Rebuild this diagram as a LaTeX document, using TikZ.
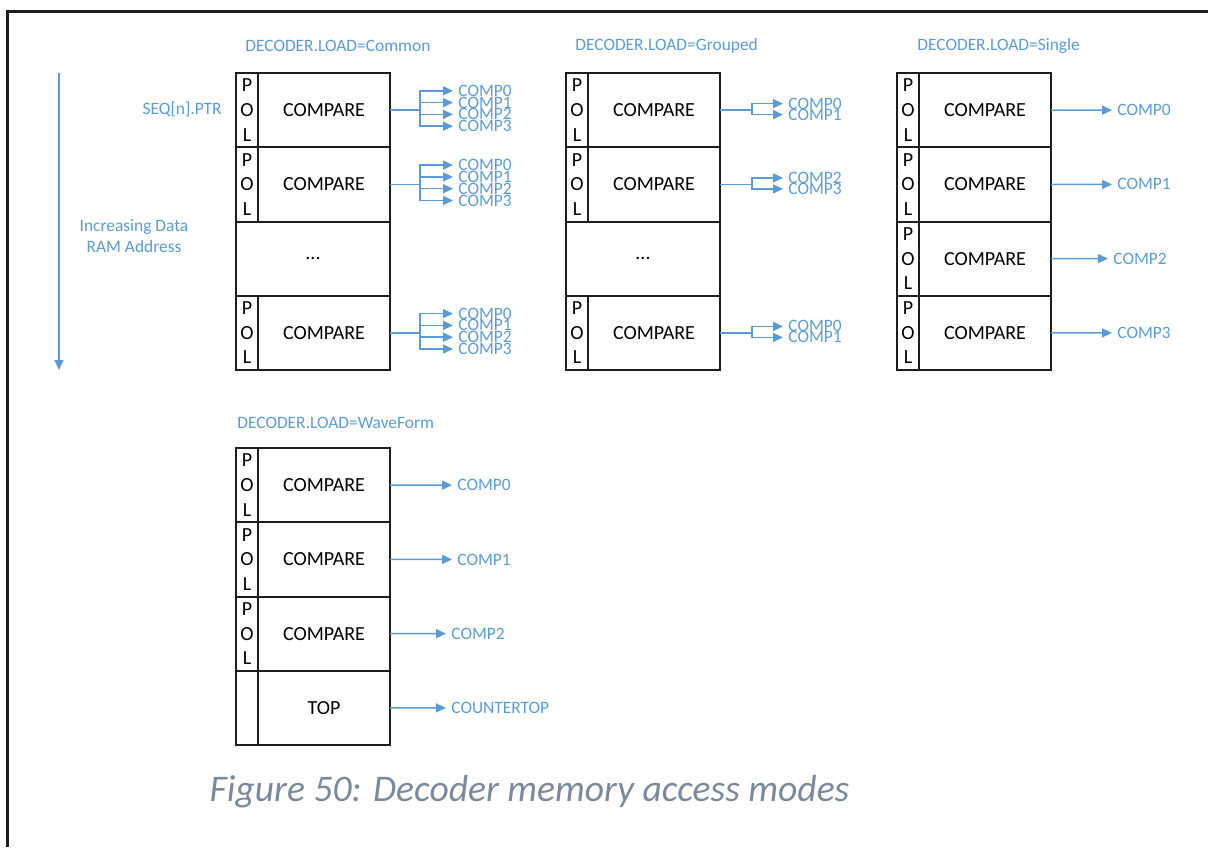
\documentclass[tikz,border=0pt]{standalone}
\usepackage{fontspec}
\setmainfont{Carlito}
\usepackage{xcolor}
\definecolor{dmblue}{HTML}{5B9BD5}
\definecolor{dmline}{HTML}{1E1E1E}
\definecolor{dmgray}{HTML}{7A8A9B}
\usepackage{tikz}
\usetikzlibrary{arrows.meta, positioning}

\begin{document}
\begin{tikzpicture}[
  x=0.5pt, y=-0.5pt,
  cell/.style={rectangle, draw=dmline, line width=1pt,
    inner sep=0pt, outer sep=0pt, minimum height=37.125pt,
    align=center},
  pol/.style={cell, minimum width=11pt,
    font=\fontsize{10}{12.3}\selectfont},
  cmp/.style={cell, minimum width=66pt,
    font=\fontsize{10}{12}\selectfont},
  full/.style={cell, minimum width=77pt,
    font=\fontsize{10}{12}\selectfont},
  hdr/.style={inner sep=0pt, text=dmblue,
    font=\fontsize{8.7}{10.5}\selectfont},
  lbl/.style={inner sep=2.5pt, text=dmblue,
    font=\fontsize{8.7}{10}\selectfont},
  arr/.style={-{Triangle[length=5pt, width=4.5pt]},
    line width=0.75pt, dmblue}
]
  \useasboundingbox (0,0) rectangle (1208,847);
  \draw[dmline, line width=1.5pt] (1208,11) -- (7,11) -- (7,847);

  % address direction
  \coordinate (atop) at (59,73);
  \coordinate (abot) at (59,370);
  \draw[arr] (atop) -- (abot);
  \node[hdr, anchor=east] (seqptr) at (222,109) {SEQ[n].PTR};
  \node[hdr, align=center] (incaddr) at (134,236)
    {Increasing Data\\RAM Address};

  % headers
  \node[hdr, anchor=west] (hcommon) at (245,46) {DECODER.LOAD=Common};
  \node[hdr, anchor=west] (hgrouped) at (575,46) {DECODER.LOAD=Grouped};
  \node[hdr, anchor=west] (hsingle) at (917,46) {DECODER.LOAD=Single};
  \node[hdr, anchor=west] (hwave) at (237,423) {DECODER.LOAD=WaveForm};

  % Common
  \node[pol, anchor=north west] (cP1) at (236,73) {P\\O\\L};
  \node[cmp, right=0pt of cP1] (cC1) {COMPARE};
  \node[pol, below=0pt of cP1] (cP2) {P\\O\\L};
  \node[cmp, right=0pt of cP2] (cC2) {COMPARE};
  \node[full, anchor=north west] (cD) at (cP2.south west) {...};
  \node[pol, anchor=north west] (cP4) at (cD.south west) {P\\O\\L};
  \node[cmp, right=0pt of cP4] (cC4) {COMPARE};

  % Grouped
  \node[pol, anchor=north west] (gP1) at (566,73) {P\\O\\L};
  \node[cmp, right=0pt of gP1] (gC1) {COMPARE};
  \node[pol, below=0pt of gP1] (gP2) {P\\O\\L};
  \node[cmp, right=0pt of gP2] (gC2) {COMPARE};
  \node[full, anchor=north west] (gD) at (gP2.south west) {...};
  \node[pol, anchor=north west] (gP4) at (gD.south west) {P\\O\\L};
  \node[cmp, right=0pt of gP4] (gC4) {COMPARE};

  % Single
  \node[pol, anchor=north west] (sP1) at (897,73) {P\\O\\L};
  \node[cmp, right=0pt of sP1] (sC1) {COMPARE};
  \node[pol, below=0pt of sP1] (sP2) {P\\O\\L};
  \node[cmp, right=0pt of sP2] (sC2) {COMPARE};
  \node[pol, below=0pt of sP2] (sP3) {P\\O\\L};
  \node[cmp, right=0pt of sP3] (sC3) {COMPARE};
  \node[pol, below=0pt of sP3] (sP4) {P\\O\\L};
  \node[cmp, right=0pt of sP4] (sC4) {COMPARE};

  % WaveForm
  \node[pol, anchor=north west] (wP1) at (236,448) {P\\O\\L};
  \node[cmp, right=0pt of wP1] (wC1) {COMPARE};
  \node[pol, below=0pt of wP1] (wP2) {P\\O\\L};
  \node[cmp, right=0pt of wP2] (wC2) {COMPARE};
  \node[pol, below=0pt of wP2] (wP3) {P\\O\\L};
  \node[cmp, right=0pt of wP3] (wC3) {COMPARE};
  \node[pol, below=0pt of wP3] (wP4) {};
  \node[cmp, right=0pt of wP4] (wC4) {TOP};

  % Common outputs
  \node[lbl, anchor=west] (c1o0) at (453,90.8) {COMP0};
  \node[lbl, anchor=west] (c1o1) at (453,102.6) {COMP1};
  \node[lbl, anchor=west] (c1o2) at (453,114.4) {COMP2};
  \node[lbl, anchor=west] (c1o3) at (453,126.2) {COMP3};
  \node[lbl, anchor=west] (c2o0) at (453,165.1) {COMP0};
  \node[lbl, anchor=west] (c2o1) at (453,176.9) {COMP1};
  \node[lbl, anchor=west] (c2o2) at (453,188.7) {COMP2};
  \node[lbl, anchor=west] (c2o3) at (453,200.5) {COMP3};
  \node[lbl, anchor=west] (c4o0) at (453,313.6) {COMP0};
  \node[lbl, anchor=west] (c4o1) at (453,325.4) {COMP1};
  \node[lbl, anchor=west] (c4o2) at (453,337.2) {COMP2};
  \node[lbl, anchor=west] (c4o3) at (453,349.0) {COMP3};
  \foreach \r in {1,2,4}
    \foreach \k in {0,...,3}
      \draw[arr] (cC\r.east) -- ++(30,0) |- (c\r o\k.west);

  % Grouped outputs
  \node[lbl, anchor=west] (g1o0) at (783,103.6) {COMP0};
  \node[lbl, anchor=west] (g1o1) at (783,114.6) {COMP1};
  \node[lbl, anchor=west] (g2o0) at (783,177.9) {COMP2};
  \node[lbl, anchor=west] (g2o1) at (783,188.9) {COMP3};
  \node[lbl, anchor=west] (g4o0) at (783,326.4) {COMP0};
  \node[lbl, anchor=west] (g4o1) at (783,337.4) {COMP1};
  \foreach \r in {1,2,4}
    \foreach \k in {0,1}
      \draw[arr] (gC\r.east) -- ++(32,0) |- (g\r o\k.west);

  % Single outputs
  \node[lbl, anchor=west] (so0) at (1112,110.1) {COMP0};
  \node[lbl, anchor=west] (so1) at (1112,184.4) {COMP1};
  \node[lbl, anchor=west] (so2) at (1108,258.6) {COMP2};
  \node[lbl, anchor=west] (so3) at (1112,332.9) {COMP3};
  \draw[arr] (sC1.east) -- (so0.west);
  \draw[arr] (sC2.east) -- (so1.west);
  \draw[arr] (sC3.east) -- (so2.west);
  \draw[arr] (sC4.east) -- (so3.west);

  % WaveForm outputs
  \node[lbl, anchor=west] (wo0) at (452,485.1) {COMP0};
  \node[lbl, anchor=west] (wo1) at (452,559.4) {COMP1};
  \node[lbl, anchor=west] (wo2) at (446,633.6) {COMP2};
  \node[lbl, anchor=west] (wo3) at (446,707.9) {COUNTERTOP};
  \draw[arr] (wC1.east) -- (wo0.west);
  \draw[arr] (wC2.east) -- (wo1.west);
  \draw[arr] (wC3.east) -- (wo2.west);
  \draw[arr] (wC4.east) -- (wo3.west);

  \node[text=dmgray, font=\fontsize{18.8}{21}\selectfont\itshape]
    (caption) at (529.5,792) {Figure 50: Decoder memory access modes};
\end{tikzpicture}
\end{document}
